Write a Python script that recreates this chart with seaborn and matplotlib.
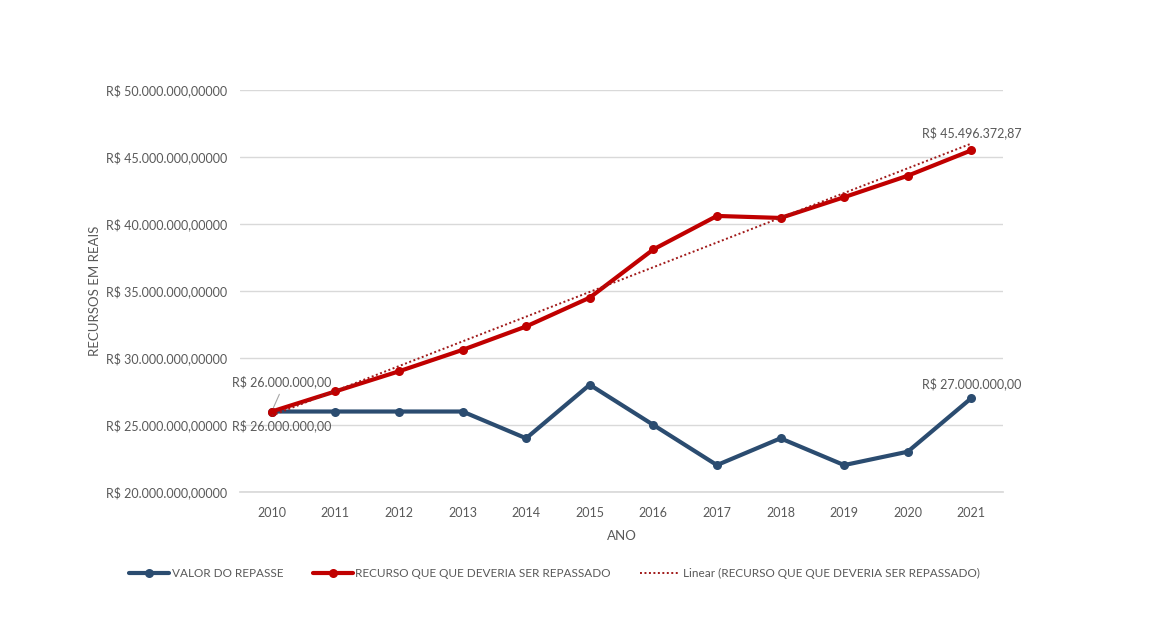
import numpy as np
import pandas as pd
import matplotlib
matplotlib.use("Agg")
import matplotlib.pyplot as plt
import seaborn as sns

anos = [2010, 2011, 2012, 2013, 2014, 2015, 2016, 2017, 2018, 2019, 2020, 2021]
valor_repasse = [26.0e6, 26.0e6, 26.0e6, 26.0e6, 24.0e6, 28.0e6, 25.0e6, 22.0e6, 24.0e6, 22.0e6, 23.0e6, 27.0e6]
recurso_devido = [26.0e6, 27.5e6, 29.0e6, 30.6e6, 32.35e6, 34.5e6, 38.1e6, 40.6e6, 40.45e6, 42.0e6, 43.6e6, 45496372.87]
y_ticks = [20e6, 25e6, 30e6, 35e6, 40e6, 45e6, 50e6]

sns.set_theme(style="white")
plt.rcParams['font.family'] = ['Lato', 'DejaVu Sans']

TXT = "#595959"
BLUE = "#2B4C70"
RED = "#C00000"

fig = plt.figure(figsize=(11.76, 6.43), dpi=100)
ax = fig.add_axes([0.204, 0.235, 0.649, 0.625])

df = pd.DataFrame({"ANO": anos, "VALOR DO REPASSE": valor_repasse,
                   "RECURSO QUE QUE DEVERIA SER REPASSADO": recurso_devido})

sns.lineplot(data=df, x="ANO", y="VALOR DO REPASSE", ax=ax, color=BLUE, lw=3,
             marker="o", markersize=6.5, markeredgewidth=0, label="VALOR DO REPASSE")
sns.lineplot(data=df, x="ANO", y="RECURSO QUE QUE DEVERIA SER REPASSADO", ax=ax, color=RED, lw=3,
             marker="o", markersize=6.5, markeredgewidth=0, label="RECURSO QUE QUE DEVERIA SER REPASSADO")

coef = np.polyfit(anos, recurso_devido, 1)
trend = np.polyval(coef, anos)
ax.plot(anos, trend, color="#A01818", lw=1.4, ls=(0, (1, 1.3)),
        label="Linear (RECURSO QUE QUE DEVERIA SER REPASSADO)")

ax.set_xlim(2009.5, 2021.5)
ax.set_ylim(20e6, 50e6)
ax.set_yticks(y_ticks)
ax.set_yticklabels(["R$ " + f"{v:,.0f}".replace(",", ".") + ",00000" for v in y_ticks])
ax.set_xticks(anos)
ax.set_xticklabels([str(a) for a in anos])
ax.tick_params(axis="both", colors=TXT, labelsize=9, length=0)
ax.tick_params(axis="y", pad=9)
ax.tick_params(axis="x", pad=11)
ax.yaxis.grid(True, color="#D9D9D9", lw=1)
ax.xaxis.grid(False)
for s in ["top", "right", "left"]:
    ax.spines[s].set_visible(False)
ax.spines["bottom"].set_color("#D9D9D9")

ax.set_xlabel("ANO", color=TXT, fontsize=9.5, labelpad=8)
ax.set_ylabel("RECURSOS EM REAIS", color=TXT, fontsize=9.5, labelpad=4)

def fmt(v):
    s = f"{v:,.2f}"
    return "R$ " + s.replace(",", "X").replace(".", ",").replace("X", ".")

ax.annotate(fmt(recurso_devido[0]), xy=(anos[0], recurso_devido[0]), xytext=(anos[0] - 0.62, 28.2e6),
            color=TXT, fontsize=9, ha="left", va="center",
            arrowprops=dict(arrowstyle="-", color="#A6A6A6", lw=0.8, shrinkA=2, shrinkB=3,
                            relpos=(0.5, 0.0)))
ax.text(anos[0] - 0.62, 24.93e6, fmt(valor_repasse[0]), color=TXT, fontsize=9, ha="left", va="center")
ax.text(anos[-1], valor_repasse[-1] + 1.1e6, fmt(valor_repasse[-1]), color=TXT, fontsize=9,
        ha="center", va="center")
ax.text(anos[-1], recurso_devido[-1] + 1.3e6, fmt(recurso_devido[-1]), color=TXT, fontsize=9,
        ha="center", va="center")

leg = ax.legend(loc="center", bbox_to_anchor=(0.412, -0.204), ncol=3, frameon=False,
                fontsize=8.5, handlelength=3.4, columnspacing=2.5, handletextpad=0.2)
for t in leg.get_texts():
    t.set_color(TXT)

fig.savefig("out.png", dpi=100, facecolor="white")
